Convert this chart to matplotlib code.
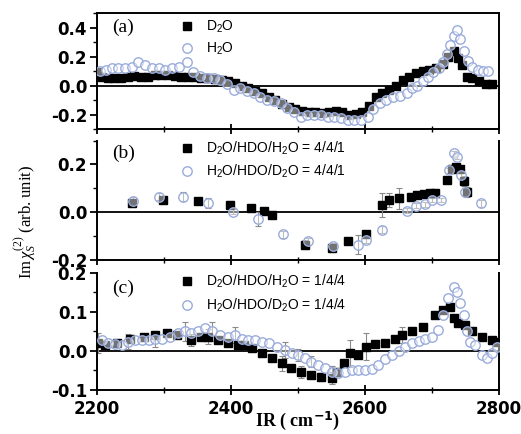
import numpy as np
import matplotlib
matplotlib.use("Agg")
import matplotlib.pyplot as plt
from matplotlib.ticker import MultipleLocator, FormatStrFormatter

plt.rcParams['axes.unicode_minus'] = False
plt.rcParams['mathtext.fontset'] = 'custom'
plt.rcParams['mathtext.rm'] = 'Liberation Serif'
plt.rcParams['mathtext.it'] = 'Liberation Serif:italic'
plt.rcParams['mathtext.sf'] = 'Liberation Sans'

# ---------------- data ----------------
# panel (a)
a_d2o_x = [2200, 2208, 2216] + list(range(2226, 2717, 10)) + [2724, 2732, 2738, 2744, 2752, 2760, 2770, 2780, 2790]
a_d2o_y = [0.09, 0.06, 0.05,
           0.05, 0.05, 0.06, 0.065, 0.06, 0.06, 0.07, 0.07, 0.07, 0.065,
           0.06, 0.06, 0.06, 0.055, 0.05, 0.045, 0.04, 0.03, 0.015, 0.0,
           -0.02, -0.04, -0.055, -0.08, -0.10, -0.13, -0.15, -0.165, -0.175, -0.18,
           -0.185, -0.19, -0.185, -0.175, -0.18, -0.2, -0.195, -0.18, -0.14, -0.08,
           -0.055, -0.03, 0.0, 0.035, 0.06, 0.085, 0.10, 0.11, 0.12, 0.15,
           0.20, 0.24, 0.19, 0.14, 0.06, 0.05, 0.03, 0.01, 0.01]
a_h2o_x = [2204, 2213, 2222, 2232, 2242, 2252, 2262, 2272, 2282, 2292,
           2302, 2312, 2322, 2334, 2344, 2354, 2364, 2374, 2384, 2394,
           2404, 2414, 2424, 2434, 2444, 2454, 2464, 2474, 2484, 2494,
           2504, 2514, 2524, 2534, 2544, 2554, 2564, 2574, 2584, 2594,
           2604, 2612, 2622, 2632, 2642, 2652, 2662, 2670, 2678, 2686,
           2694, 2702, 2710, 2716, 2722, 2727, 2732, 2737, 2742, 2748,
           2754, 2760, 2768, 2776, 2784]
a_h2o_y = [0.10, 0.11, 0.12, 0.12, 0.12, 0.13, 0.16, 0.14, 0.12, 0.12,
           0.11, 0.12, 0.13, 0.16, 0.09, 0.065, 0.055, 0.05, 0.035, 0.01,
           -0.03, -0.02, -0.04, -0.05, -0.08, -0.10, -0.11, -0.12, -0.155, -0.18,
           -0.215, -0.2, -0.2, -0.205, -0.215, -0.215, -0.225, -0.24, -0.24, -0.235,
           -0.215, -0.16, -0.12, -0.10, -0.08, -0.07, -0.05, -0.02, 0.0, 0.03,
           0.06, 0.09, 0.12, 0.16, 0.22, 0.28, 0.34, 0.38, 0.32, 0.24,
           0.17, 0.13, 0.11, 0.10, 0.10]

# panel (b)
b_sq_x = [2252, 2299, 2351, 2399, 2430, 2450, 2461, 2510, 2550, 2575,
          2601, 2625, 2636, 2651, 2669, 2678, 2688, 2697, 2705, 2722,
          2729, 2736, 2742, 2747, 2752]
b_sq_y = [0.038, 0.05, 0.045, 0.03, 0.017, 0.005, -0.011, -0.136, -0.15, -0.12,
          -0.09, 0.03, 0.05, 0.058, 0.065, 0.072, 0.075, 0.08, 0.08, 0.135,
          0.18, 0.19, 0.18, 0.13, 0.085]
b_sq_err = [0.015, 0.01, 0.01, 0.015, 0.01, 0.01, 0.015, 0.02, 0.015, 0.01,
            0.01, 0.05, 0.03, 0.045, 0.015, 0.015, 0.015, 0.015, 0.01, 0.01,
            0.01, 0.01, 0.015, 0.02, 0.02]
b_ci_x = [2254, 2292, 2329, 2366, 2403, 2440, 2478, 2515, 2552, 2590,
          2602, 2625, 2662, 2676, 2690, 2700, 2714, 2725, 2732, 2737,
          2743, 2749, 2773]
b_ci_y = [0.045, 0.065, 0.065, 0.038, 0.003, -0.028, -0.092, -0.122, -0.14, -0.136,
          -0.115, -0.074, 0.006, 0.028, 0.033, 0.051, 0.051, 0.176, 0.246, 0.232,
          0.156, 0.086, 0.038]
b_ci_err = [0.02, 0.015, 0.02, 0.02, 0.01, 0.03, 0.015, 0.015, 0.01, 0.04,
            0.015, 0.015, 0.01, 0.01, 0.01, 0.01, 0.01, 0.01, 0.01, 0.01,
            0.015, 0.015, 0.015]

# panel (c)
c_sq_x = [2202, 2212, 2230, 2250, 2270, 2287, 2304, 2320, 2341, 2356,
          2366, 2380, 2395, 2410, 2420, 2431, 2446, 2461, 2476, 2490,
          2505, 2520, 2535, 2550, 2558, 2568, 2578, 2590, 2602, 2615,
          2630, 2645, 2655, 2670, 2687, 2704, 2717, 2727, 2732, 2739,
          2749, 2759, 2774, 2789, 2797]
c_sq_y = [0.02, 0.015, 0.02, 0.03, 0.035, 0.04, 0.045, 0.04, 0.028, 0.035,
          0.037, 0.028, 0.02, 0.015, 0.015, 0.007, -0.006, -0.019, -0.032, -0.044,
          -0.053, -0.062, -0.066, -0.07, -0.053, -0.032, -0.006, -0.01, 0.011, 0.017,
          0.02, 0.032, 0.041, 0.05, 0.062, 0.092, 0.105, 0.114, 0.084, 0.071,
          0.067, 0.05, 0.037, 0.028, 0.024]
c_sq_err = [0.025, 0, 0, 0, 0, 0, 0, 0, 0.015, 0,
            0.02, 0, 0, 0, 0, 0, 0, 0, 0.02, 0,
            0.015, 0, 0.01, 0.015, 0, 0, 0.035, 0, 0.035, 0,
            0, 0, 0.02, 0, 0, 0, 0, 0, 0, 0,
            0, 0, 0, 0, 0]
c_ci_x = [2207, 2217, 2227, 2237, 2247, 2257, 2267, 2277, 2287, 2297,
          2309, 2321, 2331, 2341, 2351, 2361, 2371, 2384, 2396, 2406,
          2416, 2426, 2436, 2446, 2456, 2468, 2481, 2491, 2500, 2510,
          2520, 2530, 2540, 2550, 2560, 2570, 2580, 2590, 2600, 2610,
          2620, 2630, 2640, 2650, 2660, 2670, 2680, 2690, 2700, 2709,
          2717, 2724, 2732, 2737, 2742, 2747, 2752, 2757, 2764, 2774,
          2782, 2789, 2797]
c_ci_y = [0.028, 0.02, 0.017, 0.015, 0.024, 0.028, 0.028, 0.028, 0.031, 0.031,
          0.037, 0.045, 0.05, 0.045, 0.05, 0.058, 0.05, 0.041, 0.037, 0.041,
          0.032, 0.028, 0.028, 0.024, 0.02, 0.011, 0.003, -0.006, -0.01, -0.019,
          -0.027, -0.036, -0.044, -0.053, -0.057, -0.053, -0.05, -0.05, -0.05, -0.045,
          -0.035, -0.02, -0.01, 0.0, 0.01, 0.02, 0.025, 0.03, 0.035, 0.054,
          0.092, 0.135, 0.165, 0.152, 0.122, 0.092, 0.05, 0.024, 0.015, -0.01,
          -0.019, -0.006, 0.011]
c_ci_err = [0, 0, 0, 0, 0.02, 0, 0, 0, 0.02, 0,
            0, 0, 0.025, 0, 0, 0, 0.025, 0, 0, 0.02,
            0, 0, 0, 0, 0, 0, 0.02, 0, 0.015, 0,
            0.015, 0, 0, 0.015, 0, 0, 0, 0, 0, 0,
            0, 0, 0, 0, 0, 0, 0, 0, 0, 0,
            0, 0, 0, 0, 0, 0, 0, 0, 0, 0,
            0, 0, 0]

labels_a = [r'D$_\mathsf{2}$O', r'H$_\mathsf{2}$O']
labels_b = [r'D$_\mathsf{2}$O/HDO/H$_\mathsf{2}$O = 4/4/1', r'H$_\mathsf{2}$O/HDO/D$_\mathsf{2}$O = 4/4/1']
labels_c = [r'D$_\mathsf{2}$O/HDO/H$_\mathsf{2}$O = 1/4/4', r'H$_\mathsf{2}$O/HDO/D$_\mathsf{2}$O = 1/4/4']
panel_tags = ['(a)', '(b)', '(c)']
a_yticks = [-0.2, 0.0, 0.2, 0.4]
b_yticks = [-0.2, 0.0, 0.2]
c_yticks = [-0.1, 0.0, 0.1, 0.2]

# ---------------- style ----------------
SQ_COLOR = 'black'
CI_EDGE = '#9aacdc'
CI_FACE = (1, 1, 1, 0.45)
ERR_COLOR = '#8a8a8a'

fig = plt.figure(figsize=(5.21, 4.34), dpi=100)
ax_a = fig.add_axes([0.186, 0.7028, 0.772, 0.267])
ax_b = fig.add_axes([0.186, 0.4009, 0.772, 0.2753])
ax_c = fig.add_axes([0.186, 0.1014, 0.772, 0.2696])


def draw_series(ax, sx, sy, cx, cy, labels, serr=None, cerr=None):
    if serr is not None:
        serr = np.asarray(serr)
        m = serr > 0
        ax.errorbar(np.asarray(sx)[m], np.asarray(sy)[m], yerr=serr[m], fmt='none',
                    ecolor=ERR_COLOR, elinewidth=0.8, capsize=2, capthick=0.8, zorder=2)
    if cerr is not None:
        cerr = np.asarray(cerr)
        m = cerr > 0
        ax.errorbar(np.asarray(cx)[m], np.asarray(cy)[m], yerr=cerr[m], fmt='none',
                    ecolor=ERR_COLOR, elinewidth=0.8, capsize=2, capthick=0.8, zorder=2)
    ax.plot(sx, sy, ls='none', marker='s', ms=5.8, mfc=SQ_COLOR, mec=SQ_COLOR,
            label=labels[0], zorder=3)
    ax.plot(cx, cy, ls='none', marker='o', ms=6.8, mfc=CI_FACE, mec=CI_EDGE,
            mew=1.0, label=labels[1], zorder=4)


draw_series(ax_a, a_d2o_x, a_d2o_y, a_h2o_x, a_h2o_y, labels_a)
draw_series(ax_b, b_sq_x, b_sq_y, b_ci_x, b_ci_y, labels_b, b_sq_err, b_ci_err)
draw_series(ax_c, c_sq_x, c_sq_y, c_ci_x, c_ci_y, labels_c, c_sq_err, c_ci_err)

ylims = [(-0.3, 0.5), (-0.2, 0.3), (-0.1, 0.2)]
yticks = [a_yticks, b_yticks, c_yticks]
yminor = [0.1, 0.1, 0.05]
tag_pos = [0.88, 0.895, 0.872]
leg_pos = [0.784, 0.837, 0.825]

for i, ax in enumerate([ax_a, ax_b, ax_c]):
    ax.set_xlim(2200, 2800)
    ax.set_ylim(*ylims[i])
    ax.axhline(0, color='black', lw=1.3, zorder=1)
    ax.xaxis.set_major_locator(MultipleLocator(200))
    ax.xaxis.set_minor_locator(MultipleLocator(100))
    ax.set_yticks(yticks[i])
    ax.yaxis.set_minor_locator(MultipleLocator(yminor[i]))
    ax.yaxis.set_major_formatter(FormatStrFormatter('%.1f'))
    for s in ['left', 'right', 'bottom', 'top']:
        ax.spines[s].set_linewidth(1.4)
    if i > 0:
        ax.spines['top'].set_visible(False)
    ax.tick_params(axis='x', which='major', direction='inout', length=7, width=1.3)
    ax.tick_params(axis='x', which='minor', direction='inout', length=5, width=1.0)
    ax.tick_params(axis='y', which='major', direction='out', length=5, width=1.3, pad=2)
    ax.tick_params(axis='y', which='minor', direction='out', length=3, width=1.0)
    ax.tick_params(top=False, right=False, which='both')
    for t in ax.get_yticklabels():
        t.set_fontweight('bold')
        t.set_fontsize(12)
        t.set_family('DejaVu Sans')
    if i < 2:
        ax.tick_params(axis='x', labelbottom=False)
    else:
        for t in ax.get_xticklabels():
            t.set_fontweight('bold')
            t.set_fontsize(12)
            t.set_family('DejaVu Sans')
    ax.text(0.037, tag_pos[i], panel_tags[i], transform=ax.transAxes,
            family='Liberation Serif', fontsize=14, va='center', ha='left')
    ax.legend(loc='center left', bbox_to_anchor=(0.206, leg_pos[i]), frameon=False,
              borderpad=0, borderaxespad=0, handlelength=1.0, handletextpad=0.9,
              labelspacing=0.45, prop={'family': 'Liberation Sans', 'size': 10})

fig.text(0.048, 0.49, r'Im$\,\chi_S^{(2)}$ (arb. unit)', rotation=90, va='center', ha='center',
         family='Liberation Serif', fontsize=12)
fig.text(0.572, 0.004, r'IR ( cm$^{\mathbf{-1}}$)', ha='center', va='bottom',
         family='Liberation Serif', fontweight='bold', fontsize=13)

fig.savefig('out.png', dpi=100)
